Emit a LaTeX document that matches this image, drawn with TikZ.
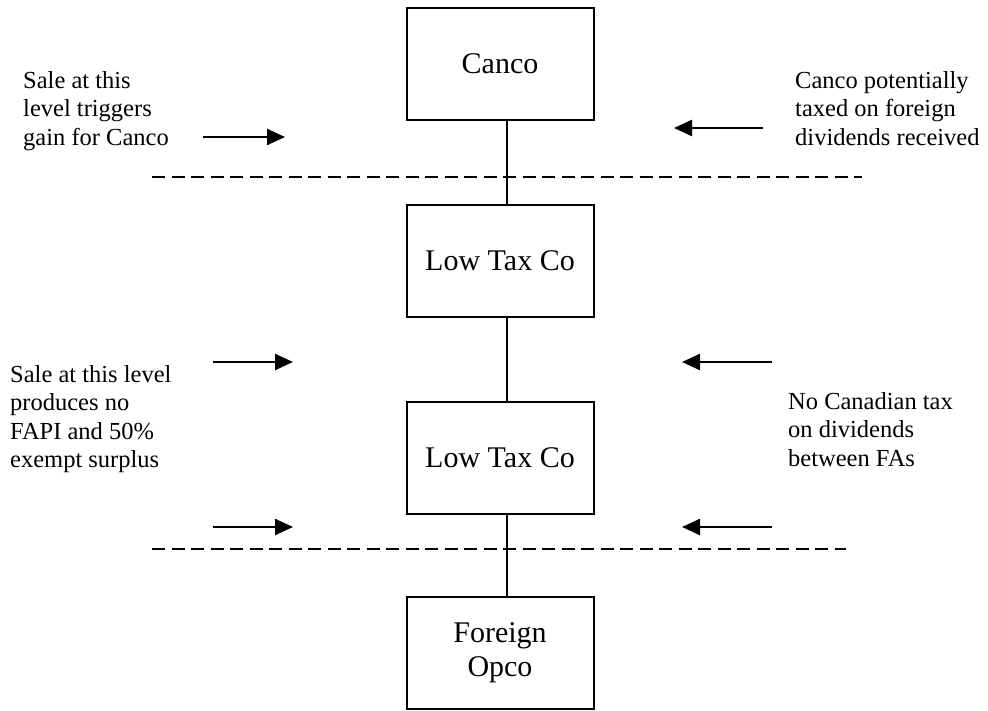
\documentclass[tikz,border=0pt]{standalone}
\usepackage{fontspec}
\setmainfont{Liberation Serif}
\usetikzlibrary{arrows.meta}

\begin{document}
\begin{tikzpicture}[x=1pt, y=-1pt,
    company/.style={draw, line width=2pt, minimum width=187pt,
      minimum height=112pt, inner sep=0pt, align=center,
      font=\fontsize{30}{34}\selectfont},
    remark/.style={anchor=north west, inner sep=0pt, align=left,
      font=\fontsize{24.5}{28.5}\selectfont},
    pointer/.style={line width=2.5pt, -{Triangle[length=18pt, width=16pt]}},
    level/.style={line width=2.6pt, dash pattern=on 13pt off 6.5pt},
    link/.style={line width=2.2pt}]

      \useasboundingbox (0,0) rectangle (988,711);

      % The chain of companies.
      \node[company] (canco) at (500,64) {Canco};
      \node[company] (lowtaxA) at (500,261) {Low Tax Co};
      \node[company] (lowtaxB) at (500,457.5) {Low Tax Co};
      \node[company] (opco) at (500,653) {Foreign\\Opco};

      % Share holdings between them.
      \draw[link] ([xshift=7pt]canco.south) -- ([xshift=7pt]lowtaxA.north);
      \draw[link] ([xshift=7pt]lowtaxA.south) -- ([xshift=7pt]lowtaxB.north);
      \draw[link] ([xshift=7pt]lowtaxB.south) -- ([xshift=7pt]opco.north);

      % Dashed lines marking the levels.
      \draw[level] (152,177) -- (862,177);
      \draw[level] (152,549) -- (846,549);

      % Sale of Low Tax Co by Canco.
      \node[remark] (saleA) at (23,71)
      {Sale at this\\level triggers\\gain for Canco};
      \draw[pointer] (203,137) -- (285,137);

      % Dividends up to Canco.
      \node[remark] (taxA) at (795,71)
      {Canco potentially\\taxed on foreign\\dividends received};
      \draw[pointer] (763,128) -- (674,128);

      % Sales and dividends between the foreign affiliates.
      \node[remark] (saleB) at (10,365)
      {Sale at this level\\produces no\\FAPI and 50\%\\exempt surplus};
      \draw[pointer] (213,362) -- (293,362);
      \draw[pointer] (213,527) -- (293,527);

      \node[remark] (taxB) at (788,392)
      {No Canadian tax\\on dividends\\between FAs};
      \draw[pointer] (772,362) -- (682,362);
      \draw[pointer] (772,527) -- (682,527);
    \end{tikzpicture}
\end{document}
